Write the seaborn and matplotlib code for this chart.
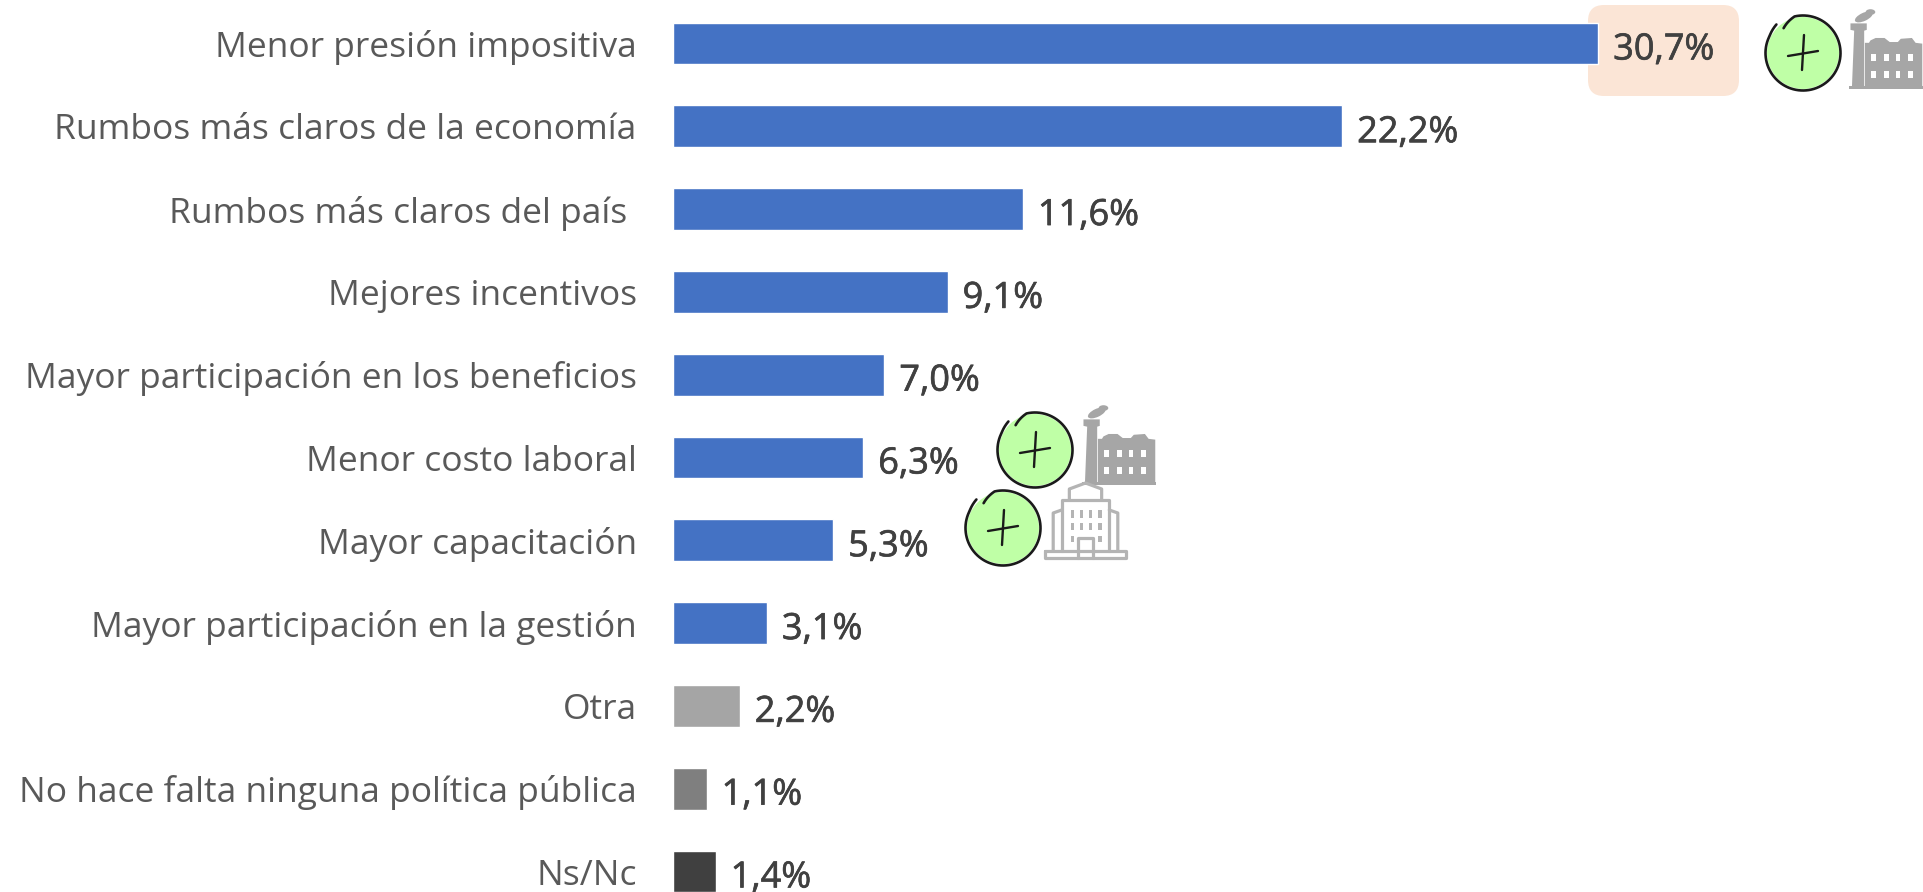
import math
import matplotlib
matplotlib.use("Agg")
import matplotlib.pyplot as plt
import matplotlib.patheffects as pe
import pandas as pd
import seaborn as sns
from matplotlib.patches import Circle, FancyBboxPatch, Polygon, Rectangle, Ellipse

categories = ["Menor presión impositiva", "Rumbos más claros de la economía",
              "Rumbos más claros del país\u00a0", "Mejores incentivos",
              "Mayor participación en los beneficios", "Menor costo laboral",
              "Mayor capacitación", "Mayor participación en la gestión", "Otra",
              "No hace falta ninguna política pública", "Ns/Nc"]
values = [30.7, 22.2, 11.6, 9.1, 7.0, 6.3, 5.3, 3.1, 2.2, 1.1, 1.4]
labels = ["30,7%", "22,2%", "11,6%", "9,1%", "7,0%", "6,3%", "5,3%", "3,1%", "2,2%", "1,1%", "1,4%"]
colors = ["#4472C4"] * 8 + ["#A5A5A5", "#7F7F7F", "#404040"]

W, H = 1924, 892
sns.set_theme(style="white")
plt.rcParams["font.family"] = ["Open Sans", "DejaVu Sans"]

fig = plt.figure(figsize=(W / 100, H / 100), dpi=100, facecolor="white")
ov = fig.add_axes([0, 0, 1, 1], zorder=0)
ov.set_xlim(0, W); ov.set_ylim(H, 0); ov.axis("off")
ax = fig.add_axes([673.5 / W, 0, 1 - 673.5 / W, 1], zorder=1)
ax.patch.set_alpha(0)

df = pd.DataFrame({"cat": categories, "val": values})
sns.barplot(data=df, x="val", y="cat", hue="cat", palette=colors, legend=False,
            saturation=1, width=0.507, ax=ax, dodge=False)
ax.set_xlim(0, (W - 673.5) / 30.12)
ax.set_ylim((H - 43.5) / 82.8, -43.5 / 82.8)
ax.set_xlabel(""); ax.set_ylabel("")
ax.xaxis.set_visible(False)
sns.despine(ax=ax, left=True, bottom=True, top=True, right=True)
ax.tick_params(axis="y", length=0, pad=26.5, labelsize=25.5, labelcolor="#595959")
for i, (v, t) in enumerate(zip(values, labels)):
    ax.annotate(t, (v, i), xytext=(10.8, -5), textcoords="offset points", va="center", ha="left",
                fontsize=26, color="#404040",
                path_effects=[pe.withStroke(linewidth=0.5, foreground="#404040")])

ov.add_patch(FancyBboxPatch((1602, 19), 123, 63, boxstyle="round,pad=14,rounding_size=16",
                            fc="#FBE5D6", ec="none"))

fac = fig.add_axes([0, 0, 1, 1], zorder=2)
fac.set_xlim(0, W); fac.set_ylim(H, 0); fac.axis("off"); fac.patch.set_alpha(0)

def plus_badge(cx, cy, r=37.5):
    ink = "#1a1a1a"
    fac.add_patch(Circle((cx, cy), r - 1.5, fc="#BFFFA6", ec="none"))
    # hand-drawn ring: the stroke starts inside the circle and ends just outside it
    xs, ys = [], []
    for k in range(0, 356):
        a = math.radians(-128 + k)          # clockwise on screen
        rad = r - 6 * max(0, 1 - k / 25) + 1.5 * max(0, (k - 335) / 20)
        xs.append(cx + rad * math.cos(a)); ys.append(cy + rad * math.sin(a))
    fac.plot(xs, ys, color=ink, lw=1.9, solid_capstyle="round")
    fac.plot([cx - 15, cx + 15], [cy + 3, cy - 2], color=ink, lw=1.7, solid_capstyle="round")
    fac.plot([cx + 1, cx - 1], [cy - 18, cy + 17], color=ink, lw=1.7, solid_capstyle="round")

def factory(x0, y0, w=74, h=81):
    g = "#A6A6A6"
    X = lambda u: x0 + u * w
    Y = lambda v: y0 + v * h
    fac.add_patch(Polygon([(X(.02), Y(.27)), (X(.02), Y(.19)), (X(.24), Y(.19)), (X(.24), Y(.27)),
                           (X(.205), Y(.28)), (X(.205), Y(.97)), (X(.04), Y(.97)), (X(.07), Y(.28))], fc=g, ec="none"))
    fac.add_patch(Polygon([(X(.215), Y(.97)), (X(.215), Y(.43)), (X(.27), Y(.43)), (X(.29), Y(.40)), (X(.36), Y(.37)),
                           (X(.48), Y(.37)), (X(.55), Y(.42)), (X(.66), Y(.42)), (X(.70), Y(.38)), (X(.85), Y(.37)),
                           (X(.90), Y(.43)), (X(.99), Y(.44)), (X(.99), Y(.97))], fc=g, ec="none"))
    fac.add_patch(Rectangle((X(0), Y(.96)), w, h * .04, fc=g, ec="none"))
    fac.add_patch(Ellipse((X(.20), Y(.11)), w * .26, h * .10, angle=-25, fc=g, ec="none"))
    fac.add_patch(Ellipse((X(.29), Y(.05)), w * .13, h * .07, fc=g, ec="none"))
    for u in (.30, .47, .63, .80):
        for v in (.57, .78):
            fac.add_patch(Rectangle((X(u), Y(v)), w * .065, h * .08, fc="white", ec="none"))

def building(x0, y0, w=85, h=75):
    g = "#B4B4B4"
    X = lambda u: x0 + u * w
    Y = lambda v: y0 + v * h
    def line(pts, lw=2.3):
        fac.plot([X(p[0]) for p in pts], [Y(p[1]) for p in pts], color=g, lw=lw, solid_joinstyle="round", solid_capstyle="round")
    line([(.02, .91), (.98, .91), (.98, 1.0), (.02, 1.0), (.02, .91)])
    line([(.22, .91), (.22, .22), (.78, .22), (.78, .91)])
    line([(.31, .22), (.31, .08), (.5, .0), (.69, .08), (.69, .22)])
    line([(.12, .91), (.12, .40), (.22, .36)])
    line([(.88, .91), (.88, .40), (.78, .36)])
    line([(.41, 1.0), (.41, .73), (.59, .73), (.59, 1.0)])
    for u in (.33, .43, .54, .65):
        for v in (.36, .53):
            fac.add_patch(Rectangle((X(u), Y(v)), w * .04, h * .10, fc=g, ec="none"))
    for u in (.33, .65):
        fac.add_patch(Rectangle((X(u), Y(.70)), w * .04, h * .09, fc=g, ec="none"))

plus_badge(1803, 53); factory(1849, 8)
plus_badge(1035, 450); factory(1082, 404)
plus_badge(1003, 528); building(1043, 483)

fig.savefig("out.png", dpi=100)
